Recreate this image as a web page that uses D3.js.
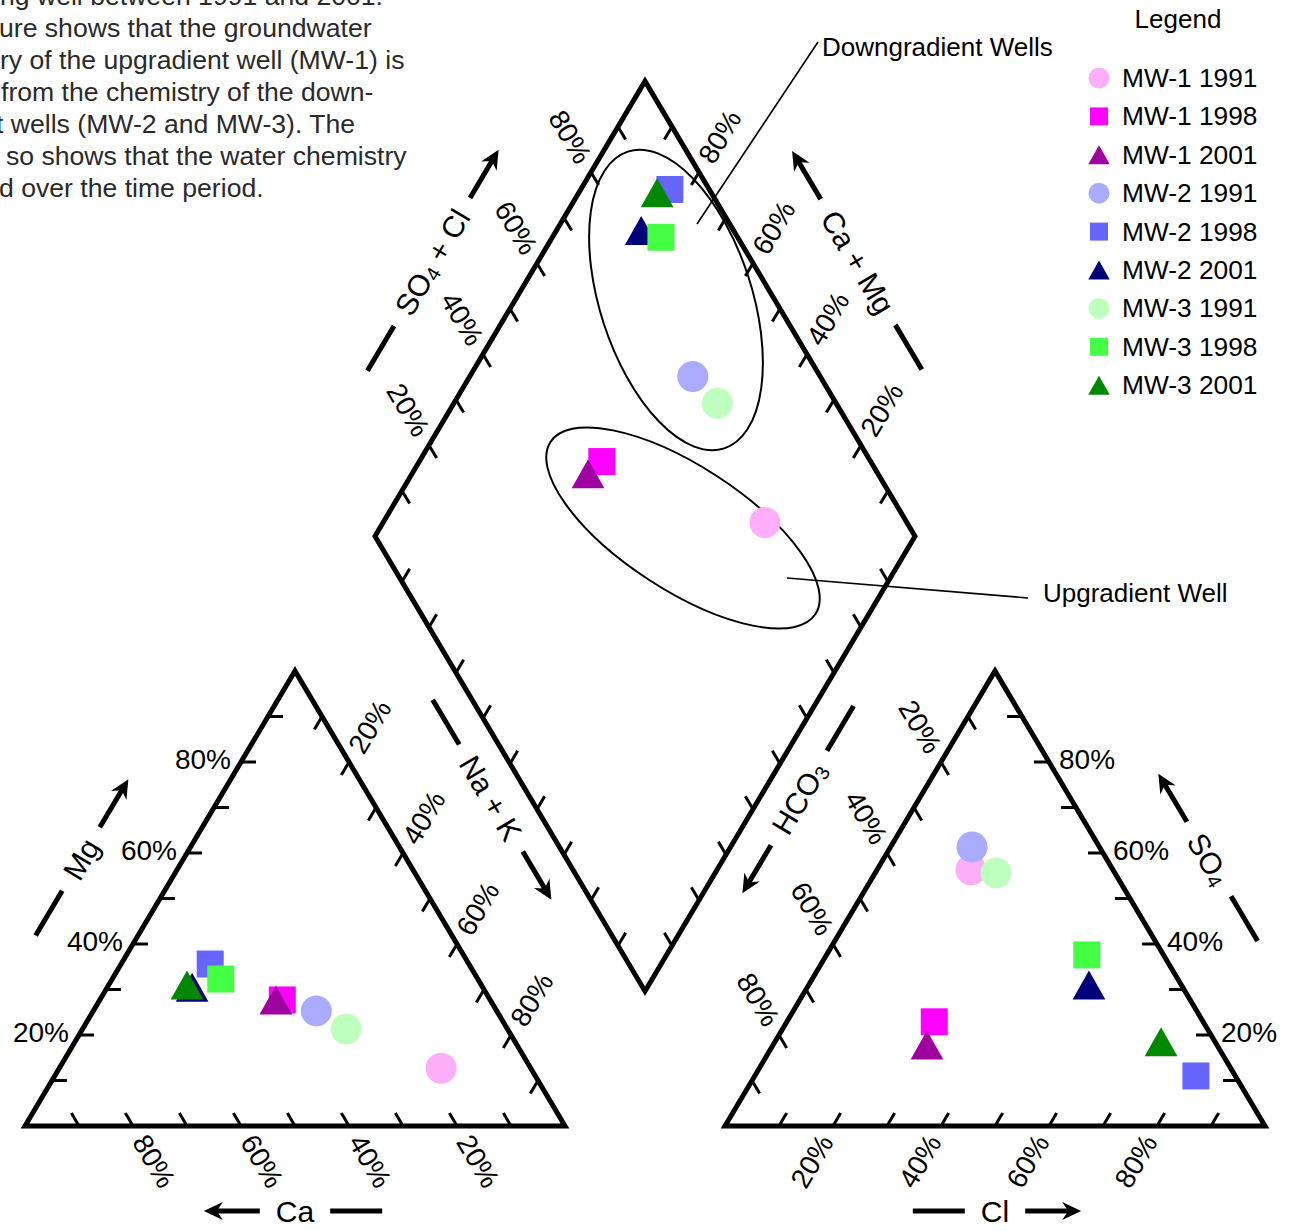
<!DOCTYPE html>
<html>
<head>
<meta charset="utf-8">
<script src="https://cdn.jsdelivr.net/npm/d3@7"></script>
<style>
  body { margin: 0; background: #fff; }
  svg { display: block; font-family: "Liberation Sans", Arial, sans-serif; }
</style>
</head>
<body>
<svg id="chart" width="1290" height="1231"></svg>
<script>
// ---- Sample data: major-ion percentages (meq) ----
const samples = ["MW-1 1991", "MW-1 1998", "MW-1 2001",
                 "MW-2 1991", "MW-2 1998", "MW-2 2001",
                 "MW-3 1991", "MW-3 1998", "MW-3 2001"];
const wells   = ["MW-1", "MW-1", "MW-1", "MW-2", "MW-2", "MW-2", "MW-3", "MW-3", "MW-3"];
const years   = [1991, 1998, 2001, 1991, 1998, 2001, 1991, 1998, 2001];

// cations (%)
const ca   = [16.6, 38.5, 39.7, 33.4, 47.9, 53.8, 29.9, 47.6, 54.5];
const mg   = [12.7, 27.7, 27.7, 25.3, 35.6, 30.5, 21.3, 32.3, 31.0];
const nak  = [70.7, 33.8, 32.6, 41.3, 16.5, 15.7, 48.8, 20.1, 14.5];
// anions (%)
const hco3 = [26.3, 49.8, 53.7, 23.6,  7.3, 17.1, 22.0, 14.2, 10.0];
const cl   = [17.4, 27.3, 28.5, 15.1, 81.7, 51.9, 22.4, 48.2, 71.5];
const so4  = [56.3, 22.9, 17.8, 61.3, 11.0, 31.0, 55.6, 37.6, 18.5];

const tickValues  = [10, 20, 30, 40, 50, 60, 70, 80, 90];
const labelValues = [20, 40, 60, 80];

const yearShape = {1991: "circle", 1998: "square", 2001: "triangle"};
const sampleColor = {
  "MW-1 1991": "#ffaff9", "MW-1 1998": "#ff00ff", "MW-1 2001": "#a000a0",
  "MW-2 1991": "#aaaaff", "MW-2 1998": "#6666ff", "MW-2 2001": "#00007a",
  "MW-3 1991": "#bfffbf", "MW-3 1998": "#44ff44", "MW-3 2001": "#008800"
};

// ---- Geometry ----
const svg = d3.select("#chart");
// plot units: one triangle side = 100 horizontally, one triangle height = 100 vertically
const x = d3.scaleLinear().domain([0, 100]).range([25, 565]);
const y = d3.scaleLinear().domain([0, 100]).range([1126, 671]);
const GAP = 29.63;                       // space between the two triangles
const P = p => [x(p[0]), y(p[1])];

const Lt = {A: [0, 0], B: [100, 0], C: [50, 100]};                       // Ca, Na+K, Mg
const Rt = {A: [100 + GAP, 0], B: [200 + GAP, 0], C: [150 + GAP, 100]};  // HCO3, Cl, SO4
const Dm = {B: [100 + GAP / 2, GAP], L: [50 + GAP / 2, GAP + 100],
            T: [100 + GAP / 2, GAP + 200], R: [150 + GAP / 2, GAP + 100]};

const cationXY = i => [nak[i] + mg[i] / 2, mg[i]];
const anionXY  = i => [100 + GAP + cl[i] + so4[i] / 2, so4[i]];
const diamondXY = i => {
  const a = ca[i] + mg[i], b = so4[i] + cl[i];
  return [Dm.B[0] + (b - a) / 2, Dm.B[1] + a + b];
};

function unit(v) { const l = Math.hypot(v[0], v[1]); return [v[0] / l, v[1] / l]; }
const pa = P(Lt.A), pc = P(Lt.C), pb = P(Lt.B);
const vUR = unit([pc[0] - pa[0], pc[1] - pa[1]]);
const vDR = unit([pb[0] - pc[0], pb[1] - pc[1]]);
const vUL = [-vDR[0], -vDR[1]];
const vDL = [-vUR[0], -vUR[1]];
const ANG = Math.atan2(vDR[1], vDR[0]) * 180 / Math.PI;

// ---- Paragraph (top left) ----
const para = svg.append("g").attr("fill", "#2a2a2a").attr("font-size", 26.6);
const paraLines = [
  {t: "ng well between 1991 and 2001.", x: 0},
  {t: "ure shows that the groundwater", x: -1},
  {t: "ry of the upgradient well (MW-1) is", x: 0},
  {t: "from the chemistry of the down-", x: 1},
  {t: "t wells (MW-2 and MW-3). The", x: -4},
  {t: "so shows that the water chemistry", x: 6},
  {t: "d over the time period.", x: -1}
];
paraLines.forEach((l, k) => para.append("text").attr("x", l.x).attr("y", 5 + 32 * k).text(l.t));

// ---- Frames ----
const frame = svg.append("g").attr("fill", "none").attr("stroke", "#000")
  .attr("stroke-width", 5).attr("stroke-linejoin", "miter").attr("stroke-miterlimit", 10);
const poly = pts => "M" + pts.map(p => P(p).join(",")).join("L") + "Z";
frame.append("path").attr("d", poly([Lt.A, Lt.B, Lt.C]));
frame.append("path").attr("d", poly([Rt.A, Rt.B, Rt.C]));
frame.append("path").attr("d", poly([Dm.B, Dm.R, Dm.T, Dm.L]));

// ---- Ticks and tick labels ----
const edges = [
  {from: Lt.B, to: Lt.A, out: vDR, rot: ANG, anchor: "start", label: true},   // Ca
  {from: Lt.A, to: Lt.C, out: [-1, 0], rot: 0, anchor: "end", label: true},   // Mg
  {from: Lt.C, to: Lt.B, out: vUR, rot: -ANG, anchor: "start", label: true},  // Na+K
  {from: Rt.A, to: Rt.B, out: vDL, rot: -ANG, anchor: "end", label: true},    // Cl
  {from: Rt.B, to: Rt.C, out: [1, 0], rot: 0, anchor: "start", label: true},  // SO4
  {from: Rt.C, to: Rt.A, out: vUL, rot: ANG, anchor: "end", label: true},     // HCO3
  {from: Dm.L, to: Dm.T, out: vUL, rot: ANG, anchor: "end", label: true},     // SO4 + Cl
  {from: Dm.R, to: Dm.T, out: vUR, rot: -ANG, anchor: "start", label: true},  // Ca + Mg
  {from: Dm.B, to: Dm.L, out: vDL, label: false},
  {from: Dm.B, to: Dm.R, out: vDR, label: false}
];
const tickLen = 15;
const tg = svg.append("g").attr("stroke", "#000").attr("stroke-width", 3);
const lg = svg.append("g").attr("font-size", 28).attr("fill", "#000");
edges.forEach(e => {
  const at = t => P([e.from[0] + (e.to[0] - e.from[0]) * t / 100,
                     e.from[1] + (e.to[1] - e.from[1]) * t / 100]);
  tickValues.forEach(t => {
    const p = at(t);
    tg.append("line").attr("x1", p[0]).attr("y1", p[1])
      .attr("x2", p[0] - e.out[0] * tickLen).attr("y2", p[1] - e.out[1] * tickLen);
  });
  if (!e.label) return;
  labelValues.forEach(t => {
    const p = at(t);
    const d = e.rot === 0 ? 10 : 13;
    const q = [p[0] + e.out[0] * d, p[1] + e.out[1] * d - (e.rot === 0 ? 3 : 0)];
    lg.append("text")
      .attr("transform", `translate(${q[0]},${q[1]}) rotate(${e.rot})`)
      .attr("text-anchor", e.anchor).attr("dominant-baseline", "central")
      .text(t + "%");
  });
});

// ---- Axis titles with dash and arrow ----
const titles = [
  {parts: [["Ca"]], cx: 295, cy: 1211, rot: 0, arrow: "before"},
  {parts: [["Cl"]], cx: 995, cy: 1211, rot: 0, arrow: "after"},
  {parts: [["Mg"]], cx: 81, cy: 859, rot: -ANG, arrow: "after"},
  {parts: [["SO"], ["4", true]], cx: 1209, cy: 859, rot: ANG, arrow: "before"},
  {parts: [["Na + K"]], cx: 491, cy: 798, rot: ANG, arrow: "after"},
  {parts: [["HCO"], ["3", true]], cx: 799, cy: 798, rot: -ANG, arrow: "before"},
  {parts: [["SO"], ["4", true], [" + Cl"]], cx: 432, cy: 262, rot: -ANG, arrow: "after"},
  {parts: [["Ca + Mg"]], cx: 858, cy: 262, rot: ANG, arrow: "before"}
];
const dashLen = 52, arrowLen = 56, gap = 16;
titles.forEach(ti => {
  const g = svg.append("g").attr("transform", `translate(${ti.cx},${ti.cy}) rotate(${ti.rot})`);
  const txt = g.append("text").attr("font-size", 30).attr("text-anchor", "middle")
    .attr("dominant-baseline", "central");
  let shifted = false;
  ti.parts.forEach(([s, sub]) => {
    const sp = txt.append("tspan").text(s);
    if (sub) { sp.attr("font-size", 20).attr("dy", 7); shifted = true; }
    else if (shifted) { sp.attr("dy", -7); shifted = false; }
  });
  const hw = txt.node().getComputedTextLength() / 2;
  const near = hw + gap;
  const dashSide = ti.arrow === "after" ? -1 : 1;
  const arrSide = -dashSide;
  g.append("line").attr("stroke", "#000").attr("stroke-width", 5)
    .attr("x1", dashSide * near).attr("x2", dashSide * (near + dashLen)).attr("y1", 0).attr("y2", 0);
  const tip = arrSide * (near + arrowLen);
  g.append("line").attr("stroke", "#000").attr("stroke-width", 5)
    .attr("x1", arrSide * near).attr("x2", tip - arrSide * 12).attr("y1", 0).attr("y2", 0);
  g.append("path").attr("fill", "#000")
    .attr("d", `M${tip},0 L${tip - arrSide * 19},-9 L${tip - arrSide * 13},0 L${tip - arrSide * 19},9 Z`);
});

// ---- Group ellipses and leader lines ----
const ann = svg.append("g").attr("fill", "none").attr("stroke", "#000");
ann.append("ellipse").attr("cx", 676).attr("cy", 300).attr("rx", 76).attr("ry", 156)
  .attr("transform", "rotate(-18,676,300)").attr("stroke-width", 2);
ann.append("ellipse").attr("cx", 683).attr("cy", 528).attr("rx", 158).attr("ry", 62)
  .attr("transform", "rotate(33,683,528)").attr("stroke-width", 2);
ann.append("line").attr("x1", 697).attr("y1", 224).attr("x2", 818).attr("y2", 42).attr("stroke-width", 1.6);
ann.append("line").attr("x1", 787).attr("y1", 578).attr("x2", 1028).attr("y2", 598).attr("stroke-width", 1.6);
svg.append("text").attr("x", 822).attr("y", 47).attr("font-size", 26)
  .attr("dominant-baseline", "central").text("Downgradient Wells");
svg.append("text").attr("x", 1043).attr("y", 593).attr("font-size", 26)
  .attr("dominant-baseline", "central").text("Upgradient Well");

// ---- Markers ----
function markerPath(shape, s) {
  if (shape === "square") return `M${-s / 2},${-s / 2}h${s}v${s}h${-s}Z`;
  if (shape === "triangle") { const w = s * 1.13, h = s; return `M0,${-h / 2}L${w / 2},${h / 2}L${-w / 2},${h / 2}Z`; }
  const r = s / 2;
  return `M${r},0A${r},${r} 0 1,1 ${-r},0A${r},${r} 0 1,1 ${r},0Z`;
}
const plotSize = {circle: 31, square: 27, triangle: 29};
const layers = [cationXY, anionXY, diamondXY];
const mk = svg.append("g");
layers.forEach(fn => {
  mk.selectAll(null).data(d3.range(samples.length)).enter().append("path")
    .attr("transform", i => { const p = P(fn(i)); return `translate(${p[0]},${p[1]})`; })
    .attr("d", i => markerPath(yearShape[years[i]], plotSize[yearShape[years[i]]]))
    .attr("fill", i => sampleColor[samples[i]]);
});

// ---- Legend ----
const leg = svg.append("g");
leg.append("text").attr("x", 1178).attr("y", 19).attr("font-size", 26)
  .attr("text-anchor", "middle").attr("dominant-baseline", "central").text("Legend");
const legSize = {circle: 21, square: 18, triangle: 19};
const row = leg.selectAll(".row").data(samples).enter().append("g")
  .attr("transform", (d, i) => `translate(1099,${78 + i * 38.4})`);
row.append("path")
  .attr("d", (d, i) => markerPath(yearShape[years[i]], legSize[yearShape[years[i]]]))
  .attr("fill", d => sampleColor[d]);
row.append("text").attr("x", 23).attr("font-size", 26.3).attr("dominant-baseline", "central")
  .text(d => d);
</script>
</body>
</html>
